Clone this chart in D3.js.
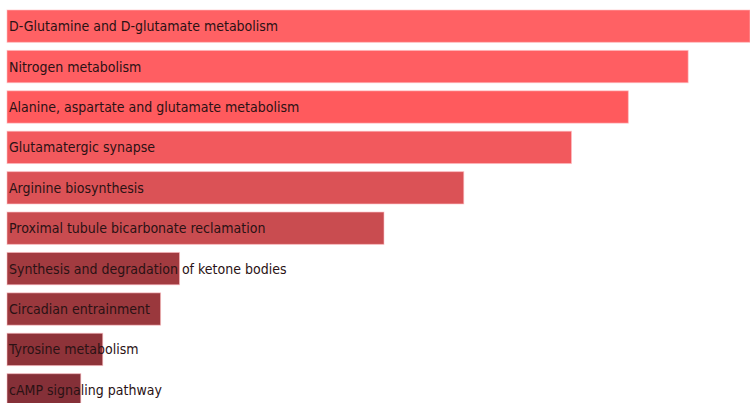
<!DOCTYPE html>
<html>
<head>
<meta charset="utf-8">
<script src="https://cdn.jsdelivr.net/npm/d3@7"></script>
<style>
html,body{margin:0;padding:0;background:#fff;overflow:hidden;}
svg{display:block;}
</style>
</head>
<body>
<svg id="chart" width="750" height="403"></svg>
<script>
const pathways = [
  "D-Glutamine and D-glutamate metabolism",
  "Nitrogen metabolism",
  "Alanine, aspartate and glutamate metabolism",
  "Glutamatergic synapse",
  "Arginine biosynthesis",
  "Proximal tubule bicarbonate reclamation",
  "Synthesis and degradation of ketone bodies",
  "Circadian entrainment",
  "Tyrosine metabolism",
  "cAMP signaling pathway"
];
const scores = [7.45, 6.83, 6.23, 5.66, 4.58, 3.78, 1.73, 1.54, 0.96, 0.74];
const barColors = ["#FF6164","#FF5E62","#FF5A5D","#F2595D","#DB5256","#C94C50","#A23B40","#9A383D","#8E3339","#853038"];

const svg = d3.select("#chart");
const x = d3.scaleLinear().domain([0, 7.45]).range([7, 750]);
const y = d3.scaleBand().domain(pathways).range([10, 406]).paddingInner(0.2).paddingOuter(0);

const g = svg.append("g");
g.selectAll("rect").data(pathways).join("rect")
  .attr("x", x(0))
  .attr("y", d => y(d))
  .attr("width", (d,i) => x(scores[i]) - x(0))
  .attr("height", y.bandwidth())
  .attr("fill", (d,i) => barColors[i])
  .attr("stroke", "rgba(255,190,195,0.6)")
  .attr("stroke-width", 1);

g.selectAll("text").data(pathways).join("text")
  .attr("x", 9)
  .attr("y", d => y(d) + y.bandwidth()/2 + 1)
  .attr("dominant-baseline", "middle")
  .attr("font-family", "'DejaVu Sans Condensed', 'DejaVu Sans', sans-serif")
  .attr("font-size", 14)
  .attr("fill", "#2a1214")
  .text(d => d);
</script>
</body>
</html>
